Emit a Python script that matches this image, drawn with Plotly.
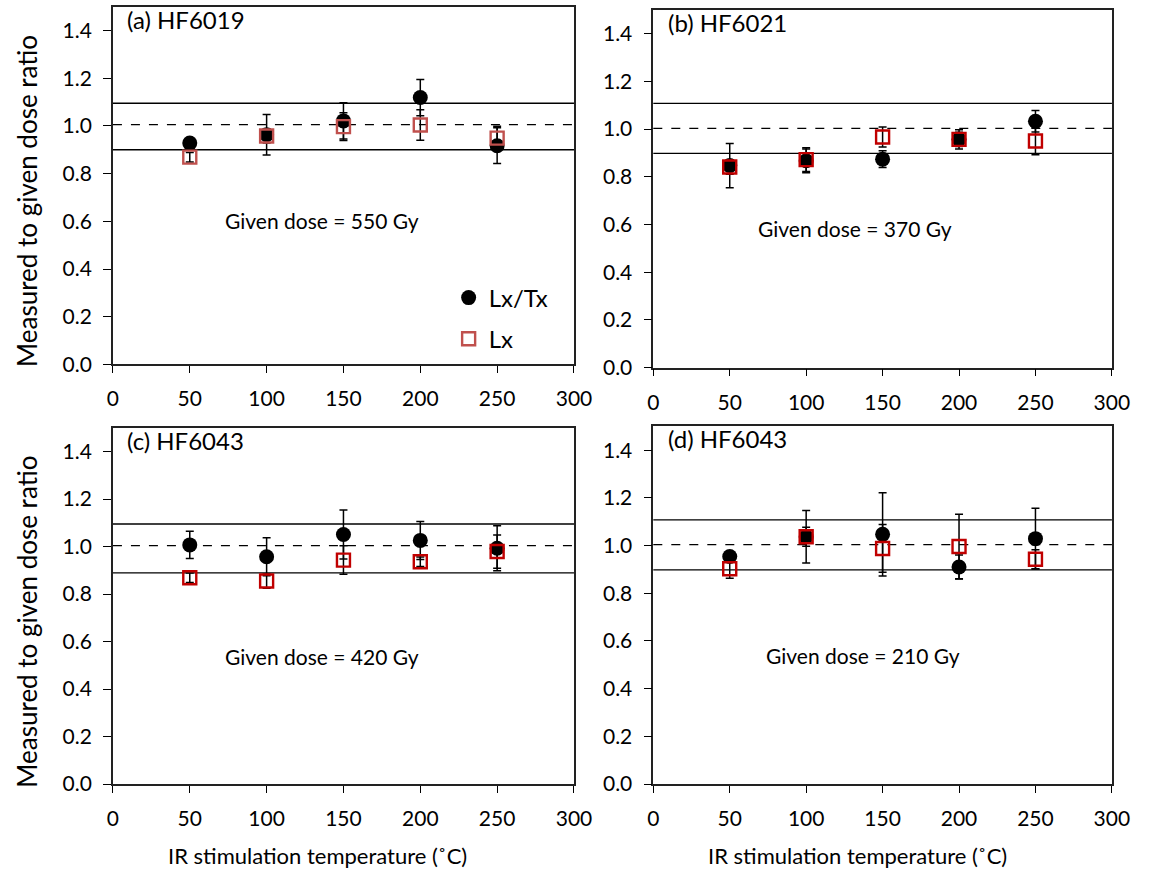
import plotly.graph_objects as go

W, H = 1158, 883
FONT = "Lato"

temps = [50, 100, 150, 200, 250]

panel_labels = ["(a) HF6019", "(b) HF6021", "(c) HF6043", "(d) HF6043"]
given_dose = ["Given dose = 550 Gy", "Given dose = 370 Gy", "Given dose = 420 Gy", "Given dose = 210 Gy"]

# Lx/Tx ratios and errors
lxtx_a = [0.928, 0.963, 1.021, 1.119, 0.917]
lxtx_a_err = [0.015, 0.085, 0.076, 0.076, 0.075]
lxtx_b = [0.847, 0.867, 0.874, 0.957, 1.033]
lxtx_b_err = [0.093, 0.05, 0.035, 0.04, 0.045]
lxtx_c = [1.007, 0.957, 1.051, 1.026, 0.993]
lxtx_c_err = [0.057, 0.08, 0.103, 0.08, 0.095]
lxtx_d = [0.954, 1.037, 1.047, 0.910, 1.029]
lxtx_d_err = [0.02, 0.11, 0.175, 0.05, 0.127]

# Lx ratios and errors
lx_a = [0.869, 0.958, 0.997, 1.004, 0.949]
lx_a_err = [0.02, 0.03, 0.058, 0.064, 0.05]
lx_b = [0.841, 0.872, 0.967, 0.957, 0.950]
lx_b_err = [0.03, 0.05, 0.042, 0.03, 0.058]
lx_c = [0.869, 0.855, 0.943, 0.936, 0.979]
lx_c_err = [0.02, 0.03, 0.06, 0.02, 0.07]
lx_d = [0.903, 1.037, 0.988, 0.996, 0.943]
lx_d_err = [0.04, 0.04, 0.1, 0.135, 0.04]

# reference lines: upper, lower, unity
upper_lines = [1.095, 1.108, 1.095, 1.108]
lower_lines = [0.900, 0.898, 0.889, 0.898]
unity_lines = [1.005, 1.003, 1.004, 1.004]

x_ticks = [0, 50, 100, 150, 200, 250, 300]
y_ticks = [0.0, 0.2, 0.4, 0.6, 0.8, 1.0, 1.2, 1.4]

lxtx_all = [lxtx_a, lxtx_b, lxtx_c, lxtx_d]
lxtx_err_all = [lxtx_a_err, lxtx_b_err, lxtx_c_err, lxtx_d_err]
lx_all = [lx_a, lx_b, lx_c, lx_d]
lx_err_all = [lx_a_err, lx_b_err, lx_c_err, lx_d_err]
square_colors = ["#C0504D", "#C00000", "#C00000", "#C00000"]

# annotation placement (data coords)
dose_x = [136, 132, 136, 137]
dose_y = [0.605, 0.582, 0.536, 0.539]

# panel boxes in pixels: left, right, top, bottom
boxes = [
    (109.2, 580.0, 6.75, 369.0),
    (661.0, 1129.3, 9.9, 372.3),
    (109.2, 580.0, 433.2, 794.0),
    (661.0, 1129.3, 431.7, 794.0),
]

fig = go.Figure()
layout = dict(
    width=W, height=H,
    margin=dict(l=0, r=0, t=0, b=0),
    paper_bgcolor="white", plot_bgcolor="white",
    font=dict(family=FONT, color="black", size=16),
    showlegend=True,
)

for i in range(4):
    xa = "x" if i == 0 else f"x{i+1}"
    ya = "y" if i == 0 else f"y{i+1}"
    l, r, t, b = boxes[i]
    layout["xaxis" if i == 0 else f"xaxis{i+1}"] = dict(
        domain=[l / W, r / W], anchor=ya, range=[0, 300],
        tickvals=x_ticks, ticks="outside", ticklen=7, tickwidth=1.3,
        tickcolor="black", showline=True, linecolor="#222", linewidth=1.6,
        mirror=True, showgrid=False, zeroline=False, ticklabelstandoff=8,
        tickfont=dict(family=FONT, size=21, color="black"),
    )
    layout["yaxis" if i == 0 else f"yaxis{i+1}"] = dict(
        domain=[1 - b / H, 1 - t / H], anchor=xa, range=[0, 1.5],
        tickvals=y_ticks, ticktext=[f"{v:.1f}" for v in y_ticks],
        ticks="outside", ticklen=8, tickwidth=1.3, tickcolor="black",
        showline=True, linecolor="#222", linewidth=1.6, mirror=True,
        showgrid=False, zeroline=False, ticklabelstandoff=7,
        tickfont=dict(family=FONT, size=21, color="black"),
    )
    fig.add_trace(go.Scatter(
        x=temps, y=lxtx_all[i], mode="markers", xaxis=xa, yaxis=ya,
        name="Lx/Tx", legendgroup="g1", showlegend=(i == 0),
        marker=dict(symbol="circle", size=15, color="black"),
        error_y=dict(type="data", array=lxtx_err_all[i], color="black",
                     thickness=1.5, width=4),
    ))
    fig.add_trace(go.Scatter(
        x=temps, y=lx_all[i], mode="markers", xaxis=xa, yaxis=ya,
        name="Lx", legendgroup="g2", showlegend=(i == 0),
        marker=dict(symbol="square-open", size=13, color=square_colors[i],
                    line=dict(width=2.4, color=square_colors[i])),
        error_y=dict(type="data", array=lx_err_all[i], color="black",
                     thickness=1.5, width=4),
    ))

fig.update_layout(**layout)

for i in range(4):
    xa = "x" if i == 0 else f"x{i+1}"
    ya = "y" if i == 0 else f"y{i+1}"
    for val, dash in ((upper_lines[i], "solid"), (lower_lines[i], "solid"), (unity_lines[i], "dash")):
        fig.add_shape(type="line", xref=f"{xa} domain", yref=ya, x0=0, x1=1,
                      y0=val, y1=val, layer="below",
                      line=dict(color="black", width=1.3, dash=dash))
    fig.add_annotation(xref=xa, yref=ya, x=8, y=1.447, text=panel_labels[i],
                       showarrow=False, xanchor="left", yanchor="middle",
                       font=dict(family=FONT, size=24, color="black"))
    fig.add_annotation(xref=xa, yref=ya, x=dose_x[i], y=dose_y[i], text=given_dose[i],
                       showarrow=False, xanchor="center", yanchor="middle",
                       font=dict(family=FONT, size=21, color="black"))

# axis titles
for yc in (204, 630):
    fig.add_annotation(xref="paper", yref="paper", x=22 / W, y=1 - yc / H,
                       text="Measured to given dose ratio", textangle=-90,
                       showarrow=False, xanchor="center", yanchor="middle",
                       font=dict(family=FONT, size=26, color="black"))
for xl in (163, 715):
    fig.add_annotation(xref="paper", yref="paper", x=xl / W, y=1 - 866 / H,
                       text="IR stimulation temperature (˚C)",
                       showarrow=False, xanchor="left", yanchor="middle",
                       font=dict(family=FONT, size=22, color="black"))

fig.update_layout(legend=dict(
    x=452 / W, y=1 - 279 / H, xanchor="left", yanchor="top",
    bgcolor="rgba(0,0,0,0)", borderwidth=0, tracegroupgap=7,
    font=dict(family=FONT, size=24, color="black"),
))

fig.write_html("out.html")
